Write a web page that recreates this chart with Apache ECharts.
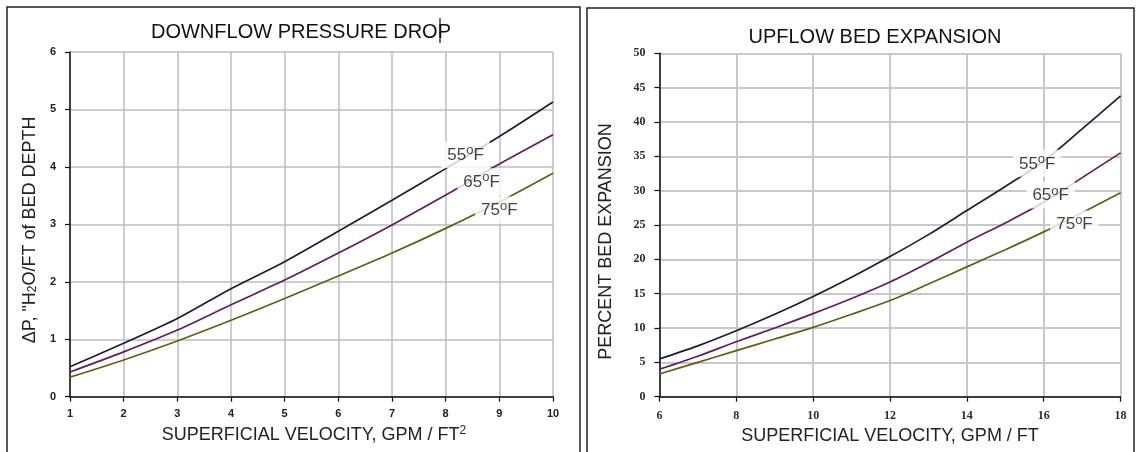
<!DOCTYPE html>
<html><head><meta charset="utf-8">
<script src="https://cdn.jsdelivr.net/npm/echarts@6/dist/echarts.min.js"></script>
<style>html,body{margin:0;padding:0;background:#fff}#c{width:1138px;height:452px}</style>
</head><body><div id="c"></div>
<script>
// ---- data ----
const velLeft = [1, 2, 3, 4, 5, 6, 7, 8, 9, 10];
const dp55 = [0.52, 0.93, 1.36, 1.88, 2.35, 2.88, 3.42, 3.97, 4.53, 5.13];
const dp65 = [0.43, 0.78, 1.16, 1.60, 2.03, 2.50, 2.99, 3.51, 4.05, 4.56];
const dp75 = [0.34, 0.64, 0.97, 1.33, 1.71, 2.10, 2.50, 2.93, 3.39, 3.89];

const velRight = [6, 7, 8, 9, 10, 11, 12, 13, 14, 15, 16, 17, 18];
const be55 = [5.5, 7.4, 9.6, 12.0, 14.6, 17.4, 20.4, 23.6, 27.1, 30.6, 34.3, 39.0, 43.8];
const be65 = [4.0, 5.9, 8.0, 10.0, 12.1, 14.3, 16.7, 19.5, 22.5, 25.3, 28.3, 31.9, 35.5];
const be75 = [3.3, 5.0, 6.7, 8.4, 10.1, 12.0, 14.0, 16.4, 18.9, 21.4, 24.0, 26.8, 29.7];

const tempLabels = ['55', '65', '75'];
const titles = ['DOWNFLOW PRESSURE DROP', 'UPFLOW BED EXPANSION'];

// ---- label anchor positions (data coords) ----
const anchorsLeft = [[8.37, 4.21], [8.67, 3.74], [9.0, 3.25]];
const anchorsRight = [[15.83, 33.98], [16.18, 29.37], [16.8, 25.15]];

const colors = ['#1c1c3a', '#5e1f5c', '#5f5f1c'];
const zip = (xs, ys) => xs.map((x, i) => [x, ys[i]]);

const tempRich = {
  t: {fontSize: 17, lineHeight: 22, fontFamily: 'Liberation Sans', color: '#111'},
  o: {fontSize: 13, lineHeight: 13, fontFamily: 'Liberation Sans', color: '#111', verticalAlign: 'top'}
};

function lineSeries(idx, xs, ys) {
  return ys.map((y, i) => ({
    type: 'line', xAxisIndex: idx, yAxisIndex: idx, data: zip(xs, y),
    showSymbol: false, smooth: 0.3, z: 2,
    lineStyle: {color: colors[i], width: 1.7}
  }));
}
function labelSeries(idx, anchors) {
  return {
    type: 'scatter', xAxisIndex: idx, yAxisIndex: idx, z: 10,
    symbol: 'rect', symbolSize: 1, itemStyle: {color: '#fff'},
    data: anchors.map((a, i) => ({value: a, name: tempLabels[i]})),
    label: {
      show: true, position: 'inside',
      formatter: p => '{t|' + p.name + '}{o|o}{t|F}',
      backgroundColor: '#fff', padding: [3, 6, 2, 6], rich: tempRich
    },
    silent: true
  };
}

const gridCol = '#bdbdbd';
const nameStyle = {fontSize: 18, fontFamily: 'Liberation Sans', color: '#222'};

const option = {
  animation: false,
  backgroundColor: '#fff',
  title: [
    {text: titles[0], left: 296, top: 17, textAlign: 'center',
     textStyle: {fontSize: 20, fontWeight: 'normal', fontFamily: 'Liberation Sans', color: '#111'}},
    {text: titles[1], left: 870, top: 22, textAlign: 'center',
     textStyle: {fontSize: 20, fontWeight: 'normal', fontFamily: 'Liberation Sans', color: '#111'}}
  ],
  graphic: [
    {type: 'rect', shape: {x: 7, y: 7, width: 573, height: 460}, style: {fill: 'none', stroke: '#222', lineWidth: 1.5}, z: -1},
    {type: 'rect', shape: {x: 587, y: 8, width: 547, height: 460}, style: {fill: 'none', stroke: '#222', lineWidth: 1.5}, z: -1},
    {type: 'line', shape: {x1: 440, y1: 18, x2: 440, y2: 43}, style: {stroke: '#111', lineWidth: 1.2}}
  ],
  grid: [
    {left: 70, top: 52, width: 483, height: 344.7},
    {left: 659.4, top: 53.3, width: 461.2, height: 343.4}
  ],
  xAxis: [
    {gridIndex: 0, type: 'value', min: 1, max: 10, interval: 1,
     name: 'SUPERFICIAL VELOCITY, GPM / FT{sup|2}', nameLocation: 'middle', nameGap: 27,
     nameTextStyle: Object.assign({}, nameStyle, {padding: [0, 0, 0, 5], rich: {sup: {fontSize: 12, fontFamily: 'Liberation Sans', color: '#222', verticalAlign: 'top', padding: [0, 0, 8, 0]}}}),
     axisLine: {lineStyle: {color: '#111', width: 1.5}},
     axisTick: {length: 5, lineStyle: {color: '#111', width: 1.2}},
     axisLabel: {margin: 12, fontSize: 11, fontWeight: 'bold', fontFamily: 'Liberation Sans', color: '#222'},
     splitLine: {lineStyle: {color: gridCol, width: 1.5}}},
    {gridIndex: 1, type: 'value', min: 6, max: 18, interval: 2,
     name: 'SUPERFICIAL VELOCITY, GPM / FT', nameLocation: 'middle', nameGap: 28,
     nameTextStyle: nameStyle,
     axisLine: {lineStyle: {color: '#111', width: 1.5}},
     axisTick: {length: 5, lineStyle: {color: '#111', width: 1.2}},
     axisLabel: {margin: 13, fontSize: 12, fontWeight: 'bold', fontFamily: 'Liberation Serif', color: '#2a2a3a'},
     splitLine: {lineStyle: {color: '#c8c8c8', width: 2}}}
  ],
  yAxis: [
    {gridIndex: 0, type: 'value', min: 0, max: 6, interval: 1,
     name: 'ΔP, "H{sub|2}O/FT of BED DEPTH', nameLocation: 'middle', nameGap: 31,
     nameTextStyle: Object.assign({}, nameStyle, {padding: [0, 11, 0, 0], rich: {sub: {fontSize: 12, fontFamily: 'Liberation Sans', color: '#222', verticalAlign: 'bottom', padding: [6, 0, 0, 0]}}}),
     axisLine: {show: true, lineStyle: {color: '#111', width: 1.5}},
     axisTick: {show: true, length: 5, lineStyle: {color: '#111', width: 1.2}},
     axisLabel: {margin: 14, fontSize: 11, fontWeight: 'bold', fontFamily: 'Liberation Sans', color: '#222'},
     splitLine: {lineStyle: {color: gridCol, width: 1.5}}},
    {gridIndex: 1, type: 'value', min: 0, max: 50, interval: 5,
     name: 'PERCENT BED EXPANSION', nameLocation: 'middle', nameGap: 44,
     nameTextStyle: Object.assign({}, nameStyle, {padding: [0, 33, 0, 0]}),
     axisLine: {show: true, lineStyle: {color: '#111', width: 1.5}},
     axisTick: {show: true, length: 5, lineStyle: {color: '#111', width: 1.2}},
     axisLabel: {margin: 14, fontSize: 12, fontWeight: 'bold', fontFamily: 'Liberation Serif', color: '#2a2a3a'},
     splitLine: {lineStyle: {color: '#c8c8c8', width: 2}}}
  ],
  series: [].concat(
    lineSeries(0, velLeft, [dp55, dp65, dp75]),
    lineSeries(1, velRight, [be55, be65, be75]),
    [labelSeries(0, anchorsLeft), labelSeries(1, anchorsRight)]
  )
};
const chart = echarts.init(document.getElementById('c'));
chart.setOption(option);
</script></body></html>
